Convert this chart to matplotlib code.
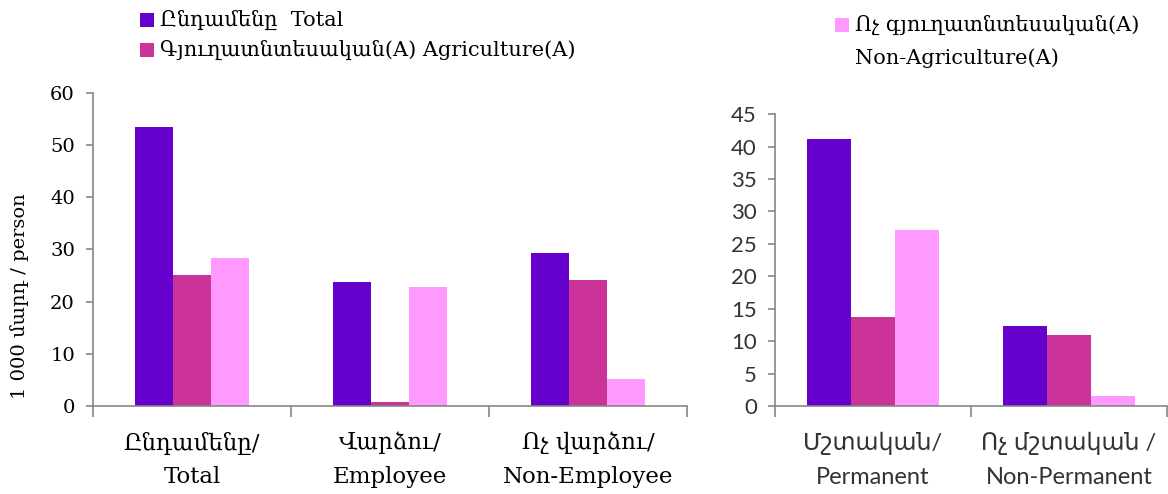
import matplotlib.pyplot as plt
import matplotlib.transforms as mtransforms
import numpy as np
from matplotlib.patches import Rectangle

# series names
series_am = ['Ընդամենը', 'Գյուղատնտեսական(A)', 'Ոչ գյուղատնտեսական(A)']
series_en = ['Total', 'Agriculture(A)', 'Non-Agriculture(A)']
colors = ['#6600CC', '#CC3399', '#FF99FF']

# left chart: by employment status
left_cats_am = ['Ընդամենը/', 'Վարձու/', 'Ոչ վարձու/']
left_cats_en = ['Total', 'Employee', 'Non-Employee']
left_total = [53.5, 23.8, 29.4]
left_agri = [25.1, 0.7, 24.1]
left_nonagri = [28.3, 22.9, 5.2]

# right chart: by permanence
right_cats_am = ['Մշտական/', 'Ոչ մշտական /']
right_cats_en = ['Permanent', 'Non-Permanent']
right_total = [41.1, 12.3]
right_agri = [13.8, 11.0]
right_nonagri = [27.1, 1.6]

serif = ['DejaVu Serif']
sans = ['Lato', 'DejaVu Sans']
spine_col = '#868686'
W, H = 1168, 494

fig = plt.figure(figsize=(11.68, 4.94), dpi=100)
ax1 = fig.add_axes([0.0796, 0.178, 0.5086, 0.634])
ax2 = fig.add_axes([0.6635, 0.178, 0.3356, 0.591])


def draw(ax, cats_am, cats_en, vals, width, ymax, ystep, font, tick_col, ysize, xsize):
    x = np.arange(len(cats_am))
    for i, v in enumerate(vals):
        ax.bar(x + (i - 1) * width, v, width, color=colors[i], linewidth=0)
    ax.set_xlim(-0.5, len(cats_am) - 0.5)
    ax.set_ylim(0, ymax)
    ax.set_yticks(np.arange(0, ymax + 0.1, ystep))
    for s in ['top', 'right']:
        ax.spines[s].set_visible(False)
    for s in ['left', 'bottom']:
        ax.spines[s].set_color(spine_col)
        ax.spines[s].set_linewidth(1.2)
    # group separators as ticks
    ax.set_xticks(np.arange(-0.5, len(cats_am), 1.0))
    ax.set_xticklabels([])
    ax.tick_params(axis='x', length=8, width=1.2, color=spine_col)
    ax.tick_params(axis='y', length=5, width=1.2, color=spine_col, pad=8)
    for t in ax.get_yticklabels():
        t.set_family(font)
        t.set_fontsize(ysize)
        t.set_color(tick_col)
    # two-line category labels
    tr = mtransforms.blended_transform_factory(ax.transData, fig.transFigure)
    for xi, a, e in zip(x, cats_am, cats_en):
        ax.text(xi, 1 - 443 / H, a, transform=tr, ha='center', va='center',
                family=font, fontsize=xsize, color=tick_col)
        ax.text(xi, 1 - 477 / H, e, transform=tr, ha='center', va='center',
                family=font, fontsize=xsize, color=tick_col)


draw(ax1, left_cats_am, left_cats_en, [left_total, left_agri, left_nonagri],
     0.193, 60, 10, serif, 'black', 14, 16.5)
draw(ax2, right_cats_am, right_cats_en, [right_total, right_agri, right_nonagri],
     0.223, 45, 5, sans, '#333333', 16, 17)

ax1.set_ylabel('1 000 մարդ / person', family=serif, fontsize=14)
ax1.yaxis.set_label_coords(-0.108, 0.35)

# legend drawn at the top
legend_items = [
    (140, 20, [series_am[0] + '  ' + series_en[0]]),
    (140, 50, [series_am[1] + ' ' + series_en[1]]),
    (835, 25, [series_am[2], series_en[2]]),
]
for (px, py, lines), c in zip(legend_items, colors):
    fig.add_artist(Rectangle((px / W, 1 - (py + 7) / H), 14 / W, 14 / H,
                             transform=fig.transFigure, color=c, linewidth=0))
    for k, line in enumerate(lines):
        fig.text((px + 20) / W, 1 - (py + 33 * k) / H, line, family=serif,
                 fontsize=15, va='center', ha='left')

fig.savefig('out.png', dpi=100)
